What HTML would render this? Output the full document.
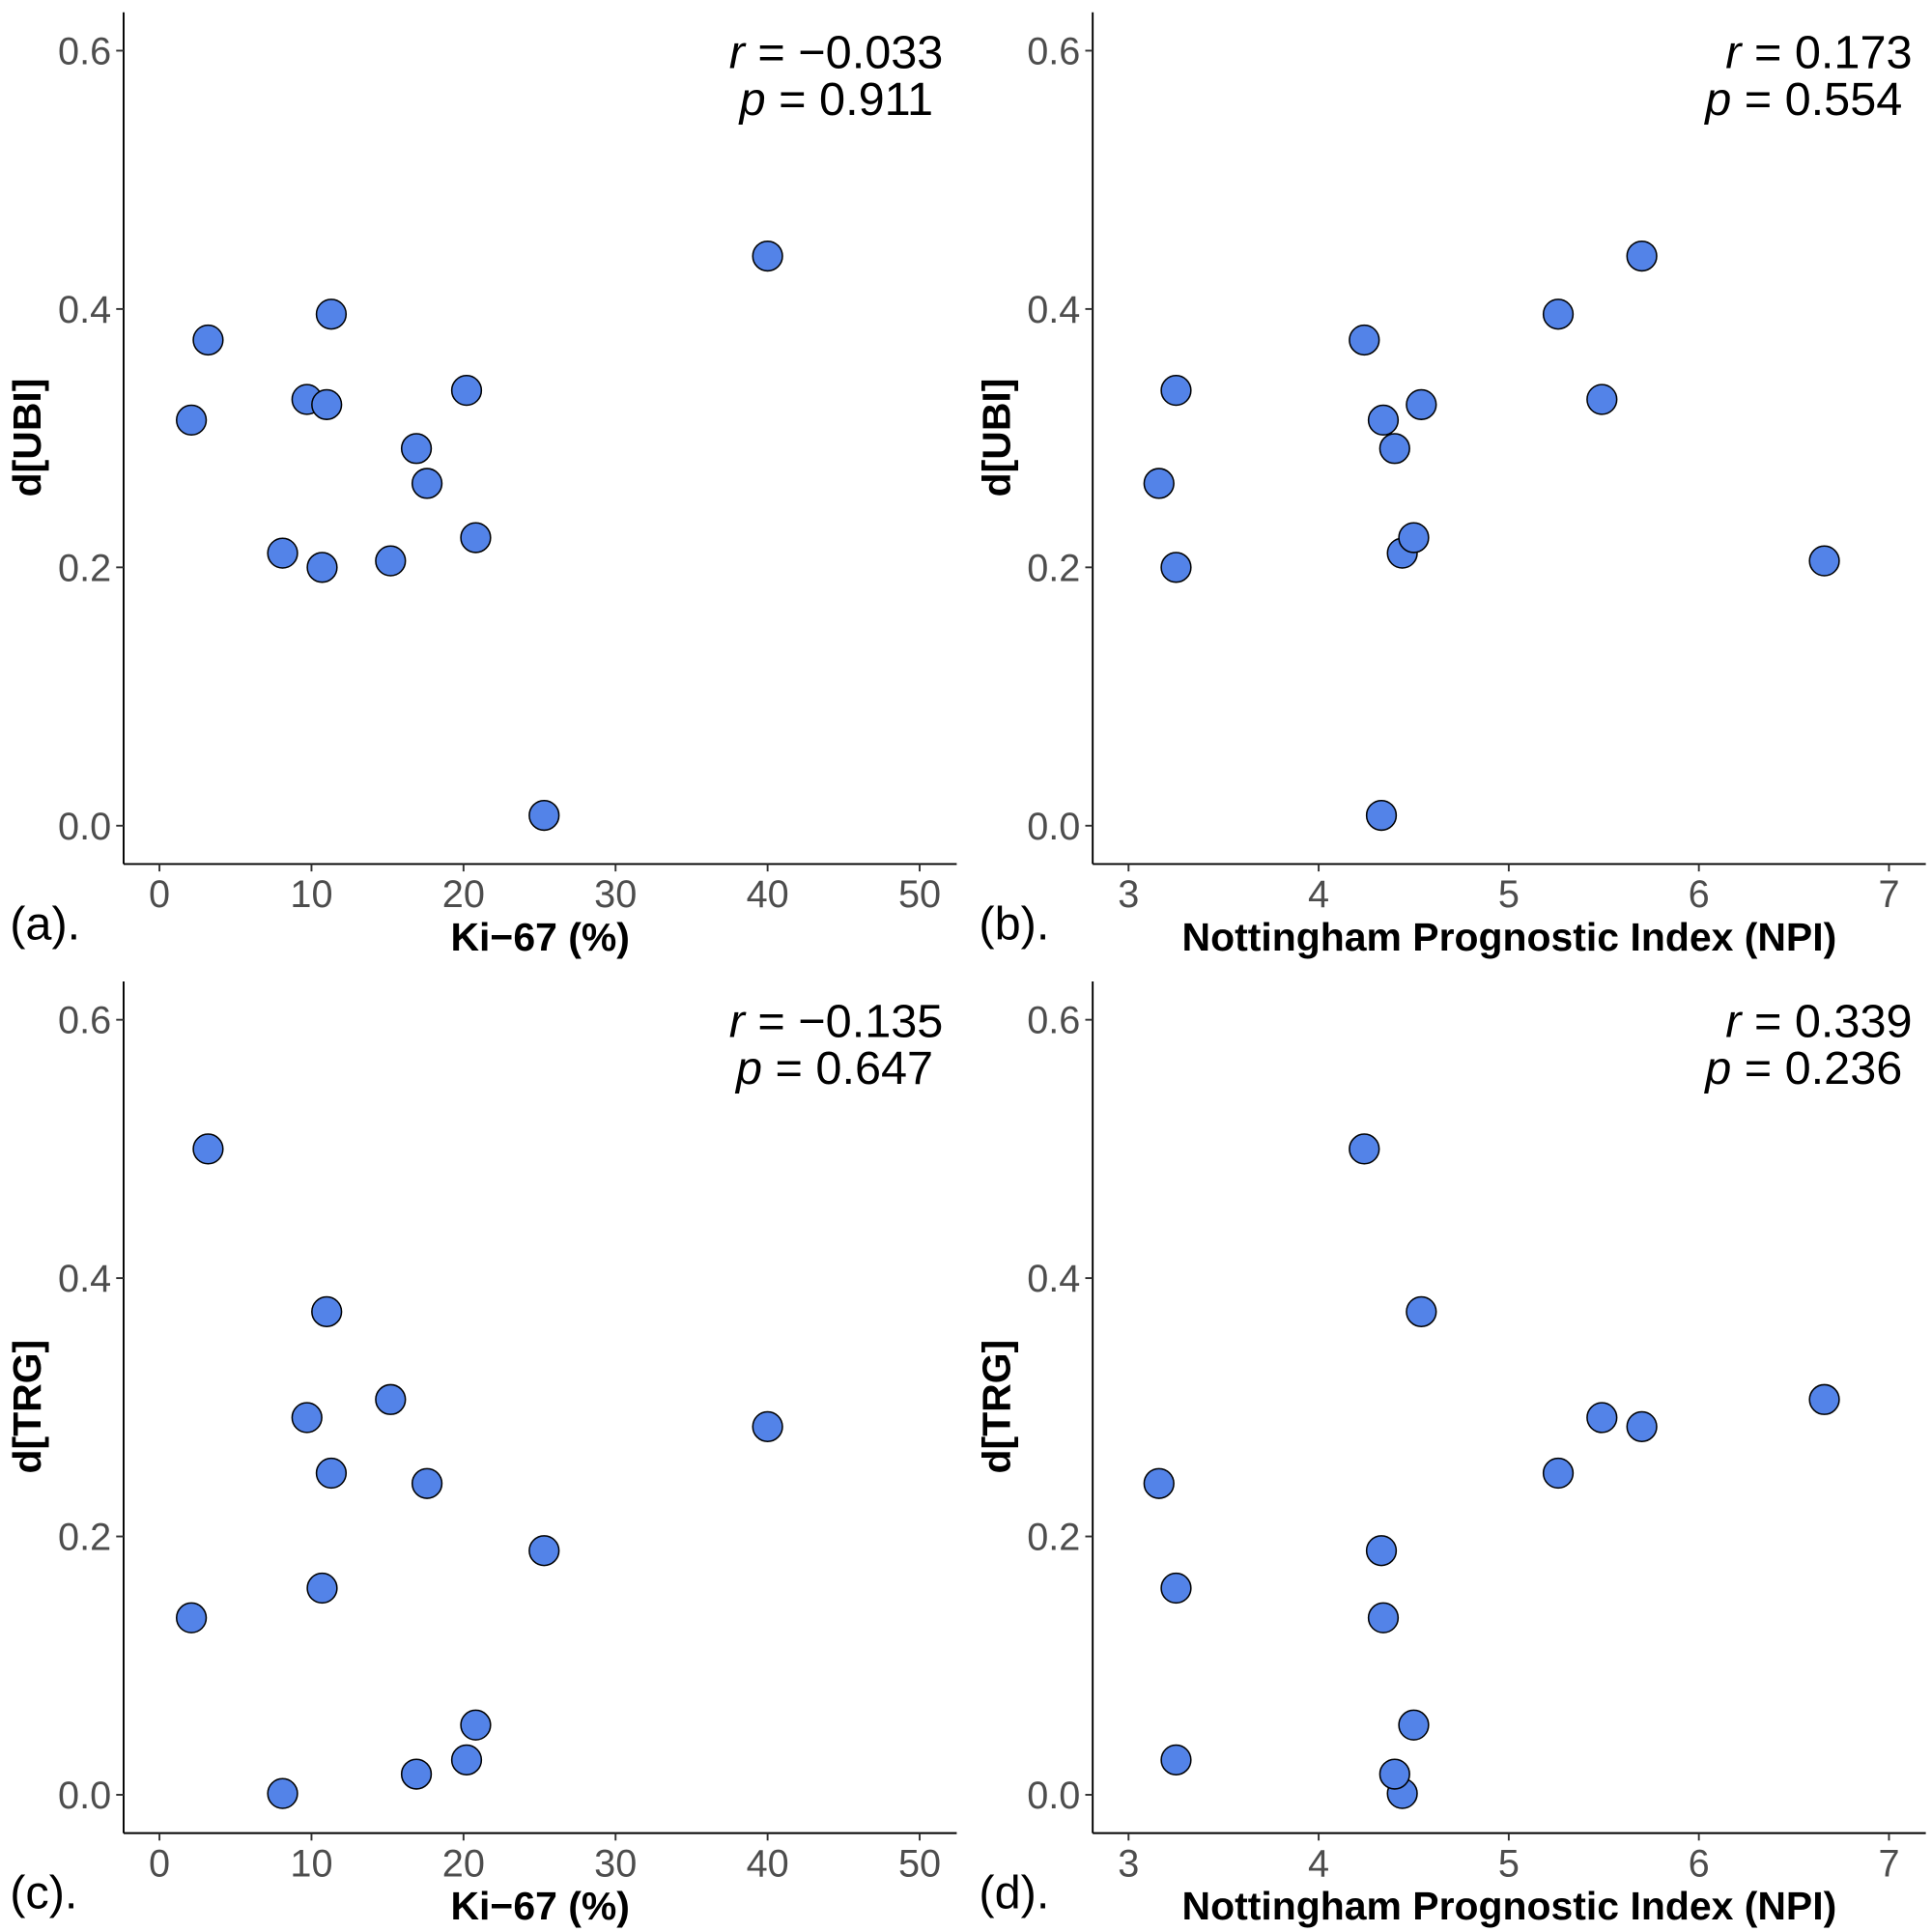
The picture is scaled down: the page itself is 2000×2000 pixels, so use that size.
<!DOCTYPE html>
<html><head><meta charset="utf-8"><style>
html,body{margin:0;padding:0;background:#fff}
svg{display:block}
text{font-family:"Liberation Sans",sans-serif}
</style></head><body>
<svg id="chart" width="2000" height="2000" viewBox="0 0 1563 1563" xmlns="http://www.w3.org/2000/svg"></svg>
<script>
const ki67 = [2.1, 3.2, 8.1, 9.7, 10.7, 11.0, 11.3, 15.2, 16.9, 17.6, 20.2, 20.8, 25.3, 40.0];
const npi  = [4.34, 4.24, 4.44, 5.49, 3.25, 4.54, 5.26, 6.66, 4.40, 3.16, 3.25, 4.50, 4.33, 5.70];
const ubi  = [0.314, 0.376, 0.211, 0.330, 0.200, 0.326, 0.396, 0.205, 0.292, 0.265, 0.337, 0.223, 0.008, 0.441];
const trg  = [0.137, 0.500, 0.001, 0.292, 0.160, 0.374, 0.249, 0.306, 0.016, 0.241, 0.027, 0.054, 0.189, 0.285];
const kiTicks = [0, 10, 20, 30, 40, 50];
const npiTicks = [3, 4, 5, 6, 7];
const yTicks = [0.0, 0.2, 0.4, 0.6];
const stats = [["−0.033","0.911"],["0.173","0.554"],["−0.135","0.647"],["0.339","0.236"]];
const labels = ["(a).","(b).","(c).","(d)."];

const svg = document.getElementById('chart');
const NS = 'http://www.w3.org/2000/svg';
function mk(tag, attrs, parent){const e=document.createElementNS(NS,tag);for(const k in attrs)e.setAttribute(k,attrs[k]);(parent||svg).appendChild(e);return e;}

const panels = [
 {ox:0, oy:0, xs:ki67, ys:ubi, xt:kiTicks, xlab:"Ki−67 (%)", ylab:"d[UBI]", kind:"ki"},
 {ox:784, oy:0, xs:npi, ys:ubi, xt:npiTicks, xlab:"Nottingham Prognostic Index (NPI)", ylab:"d[UBI]", kind:"npi"},
 {ox:0, oy:784, xs:ki67, ys:trg, xt:kiTicks, xlab:"Ki−67 (%)", ylab:"d[TRG]", kind:"ki"},
 {ox:784, oy:784, xs:npi, ys:trg, xt:npiTicks, xlab:"Nottingham Prognostic Index (NPI)", ylab:"d[TRG]", kind:"npi"}
];

panels.forEach((p,i)=>{
  const g = mk('g',{});
  
  
  const xScale = p.kind==="ki" ? (v=>p.ox+129+v*12.3) : (v=>p.ox+129+(v-3)*153.8);
  const yScale = v=>p.oy+668-v*1045;
  const left=p.ox+100, bottom=p.oy+699, right=p.ox+774, top=p.oy+10;
  const ya = mk('line',{x1:left,y1:top,x2:left,y2:bottom,stroke:'#000','stroke-width':1.5},g);
  
  
  const xa = mk('line',{x1:left,y1:bottom,x2:right,y2:bottom,stroke:'#000','stroke-width':1.5},g);
  
  
  yTicks.forEach(t=>{
    const y=yScale(t);
    mk('line',{x1:left-6,y1:y,x2:left,y2:y,stroke:'#333','stroke-width':1.5},g);
    const tx=mk('text',{x:left-10,y:y+11,'text-anchor':'end','font-size':31,fill:'#4d4d4d'},g);
    tx.textContent=t.toFixed(1);
    
    
  });
  p.xt.forEach(t=>{
    const x=xScale(t);
    mk('line',{x1:x,y1:bottom,x2:x,y2:bottom+6,stroke:'#333','stroke-width':1.5},g);
    const tx=mk('text',{x:x,y:bottom+35,'text-anchor':'middle','font-size':31,fill:'#4d4d4d'},g);
    tx.textContent=String(t);
    
    
  });
  const xt=mk('text',{x:p.ox+437,y:p.oy+769,'text-anchor':'middle','font-size':32,'font-weight':'bold',fill:'#000'},g);
  xt.textContent=p.xlab;
  
  
  const yt=mk('text',{x:0,y:0,'text-anchor':'middle','font-size':32,'font-weight':'bold',fill:'#000',transform:`translate(${p.ox+33},${p.oy+354}) rotate(-90)`},g);
  yt.textContent=p.ylab;
  
  
  const pl=mk('text',{x:p.ox+8,y:p.oy+760,'font-size':38,fill:'#000'},g);
  pl.textContent=labels[i];
  
  
  const r=mk('text',{x:p.ox+763,y:p.oy+55,'text-anchor':'end','font-size':38,fill:'#000'},g);
  r.innerHTML='<tspan font-style="italic">r</tspan> = '+stats[i][0];
  
  
  const pv=mk('text',{x:p.ox+755,y:p.oy+93,'text-anchor':'end','font-size':38,fill:'#000'},g);
  pv.innerHTML='<tspan font-style="italic">p</tspan> = '+stats[i][1];
  
  
  p.xs.forEach((xv,j)=>{
    const c=mk('circle',{cx:xScale(xv),cy:yScale(p.ys[j]),r:12,fill:'#5383e8',stroke:'#000','stroke-width':1.2},g);
    
    
  });
});
</script>
</body></html>
